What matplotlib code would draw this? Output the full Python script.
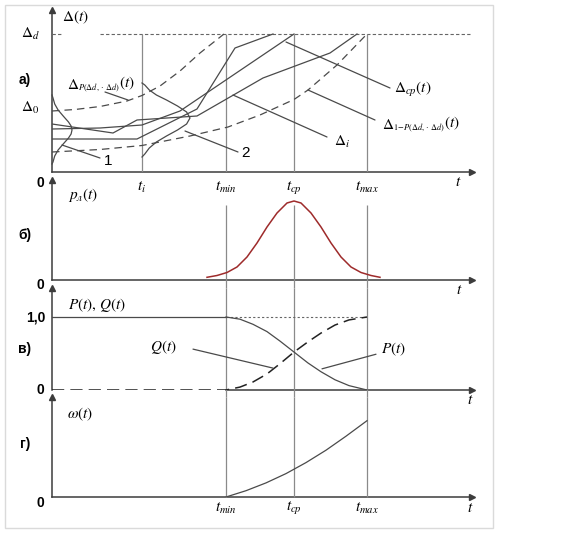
import matplotlib
matplotlib.use('Agg')
import matplotlib.pyplot as plt
from matplotlib.patches import Rectangle

plt.rcParams['mathtext.fontset'] = 'stix'
plt.rcParams['font.family'] = ['Liberation Sans', 'DejaVu Sans']

# моменты времени на оси t
t_i, t_min, t_cp, t_max = 9.0, 17.4, 24.2, 31.5
t_end = 42.0

# а) реализации процесса Δ(t)
delta_d = 13.8
delta_0 = 6.2
up_t = [0, 2.3, 4.8, 7.5, 9.0, 10.8, 12.8, 14.8, 17.2]
up_d = [6.1, 6.25, 6.55, 7.1, 7.65, 8.6, 10.1, 11.9, 13.8]
low_t = [0, 4.8, 9.0, 13.8, 17.6, 20.8, 24.2, 25.6, 28.5, 31.5]
low_d = [2.0, 2.25, 2.65, 3.6, 4.5, 5.7, 7.25, 8.2, 10.7, 13.8]
r1_t = [0, 8.5, 14.5, 18.3, 22.1]
r1_d = [3.3, 3.3, 6.3, 12.4, 13.8]
r2_t = [0, 4.8, 9.0, 12.8, 24.2]
r2_d = [4.3, 4.4, 4.7, 6.1, 13.8]
r3_t = [0, 6.1, 8.5, 14.5, 21.1, 27.8, 30.5]
r3_d = [4.8, 3.9, 5.2, 5.6, 9.4, 11.9, 13.8]
# плотности распределения (по горизонтали)
b0_w = [0, 0.1, 0.27, 0.61, 1.12, 1.65, 1.91, 2.0, 1.91, 1.65, 1.12, 0.61, 0.27, 0.1, 0]
b0_d = [7.7, 7.4, 6.8, 6.2, 5.6, 5.0, 4.6, 4.2, 3.8, 3.4, 2.8, 2.2, 1.6, 1.0, 0.8]
bi_w = [0, 0.28, 0.73, 1.44, 2.45, 3.55, 4.46, 4.8, 4.46, 3.55, 2.45, 1.44, 0.73, 0.28, 0]
bi_d = [8.9, 8.7, 8.2, 7.7, 7.2, 6.6, 6.0, 5.4, 4.8, 4.2, 3.6, 3.0, 2.4, 1.8, 1.5]

# б) плотность p_л(t)
p_t = [15.5, 16.5, 17.5, 18.5, 19.5, 20.5, 21.5, 22.5, 23.5, 24.2,
       24.9, 25.9, 26.9, 27.9, 28.9, 29.9, 30.9, 31.9, 32.8]
p_v = [0.27, 0.45, 0.75, 1.3, 2.3, 3.7, 5.3, 6.7, 7.7, 7.9,
       7.7, 6.7, 5.3, 3.7, 2.3, 1.3, 0.75, 0.45, 0.27]

# в) P(t), Q(t)
pq_t = [17.4, 18.8, 20.1, 21.5, 22.8, 24.2, 25.6, 26.9, 28.3, 29.7, 31.5]
P_v = [1.0, 0.97, 0.9, 0.8, 0.67, 0.52, 0.37, 0.25, 0.14, 0.06, 0.0]
Q_v = [0.0, 0.04, 0.11, 0.22, 0.36, 0.52, 0.66, 0.78, 0.89, 0.96, 1.0]

# г) ω(t)
w_t = [17.4, 19.4, 21.4, 23.4, 25.4, 27.4, 29.4, 31.5]
w_v = [0, 0.63, 1.41, 2.34, 3.44, 4.68, 6.08, 7.63]

W, H = 578, 535
fig = plt.figure(figsize=(W / 100, H / 100), dpi=100)
fig.patches.append(Rectangle((5 / W, 7 / H), 488 / W, 523 / H, transform=fig.transFigure,
                             fill=False, edgecolor='#dadada', lw=1))

ac = '#3c3c3c'   # оси
lc = '#4a4a4a'   # кривые
vc = '#8a8a8a'   # вертикали
fs = 11


def make_ax(top, bottom, ymax):
    ax = fig.add_axes([52 / W, 1 - bottom / H, 420 / W, (bottom - top) / H])
    ax.set_xlim(0, t_end)
    ax.set_ylim(0, ymax)
    ax.axis('off')
    return ax


def draw_axes(ax, ymax, x0=0):
    ax.plot([0, 0], [0, ymax], color=ac, lw=1.1, clip_on=False)
    ax.plot([0], [ymax], marker='^', ms=4, color=ac, clip_on=False)
    ax.plot([x0, t_end], [0, 0], color=ac, lw=1.1, clip_on=False)
    ax.plot([t_end], [0], marker='>', ms=4, color=ac, clip_on=False)


def leader(ax, a, b):
    ax.annotate('', xy=b, xytext=a,
                arrowprops=dict(arrowstyle='-', lw=0.9, color=lc, shrinkA=0, shrinkB=0))


def delta_label(ax, x, y, sub):
    # Δ с мелким индексом и (t)
    d = ax.text(x, y, r'$\Delta$', fontsize=fs, va='center')
    s = ax.annotate(sub, xy=(1, 0), xycoords=d, xytext=(-1.0, -1.5),
                    textcoords='offset points', fontsize=6, va='bottom')
    ax.annotate(r'$(t)$', xy=(1, 0), xycoords=(s, d), xytext=(-0.8, 0),
                textcoords='offset points', fontsize=fs, va='bottom')


# ---------- а) ----------
ax = make_ax(10, 172, 16.2)
draw_axes(ax, 16.2)
ax.plot([0, 1.0], [delta_d, delta_d], ls=(0, (3, 2)), color='#666666', lw=0.8)
ax.plot([4.8, 41.8], [delta_d, delta_d], ls=(0, (3, 2)), color='#666666', lw=0.8)
ax.vlines([t_i, t_min, t_cp, t_max], 0, delta_d, color=vc, lw=0.9)
ax.plot(up_t, up_d, ls=(0, (6, 4)), color=lc, lw=0.9)
ax.plot(low_t, low_d, ls=(0, (6, 4)), color=lc, lw=0.9)
for rt, rd in [(r1_t, r1_d), (r2_t, r2_d), (r3_t, r3_d)]:
    ax.plot(rt, rd, color=lc, lw=0.9)
ax.plot(b0_w, b0_d, color=lc, lw=0.9, clip_on=False)
ax.plot([t_i + w for w in bi_w], bi_d, color=lc, lw=0.9)

leader(ax, (5.3, 8.0), (7.6, 7.2))
leader(ax, (1.0, 2.7), (4.8, 1.4))
leader(ax, (13.3, 4.1), (18.6, 2.0))
leader(ax, (18.1, 7.7), (27.5, 3.5))
leader(ax, (23.4, 13.0), (33.8, 8.4))
leader(ax, (25.6, 8.2), (32.3, 5.2))

delta_label(ax, 1.5, 8.7, r'$P(\Delta d,\cdot\,\Delta d)$')
delta_label(ax, 33.0, 4.7, r'$1\!-\!P(\Delta d,\cdot\,\Delta d)$')
ax.text(5.6, 1.1, '1', fontsize=fs, ha='center', va='center')
ax.text(19.3, 1.9, '2', fontsize=fs, ha='center', va='center')
ax.text(28.2, 3.0, r'$\Delta_i$', fontsize=fs, va='center')
ax.text(34.2, 8.2, r'$\Delta_{ср}(t)$', fontsize=fs, va='center')
ax.text(1.0, 15.5, r'$\Delta(t)$', fontsize=fs, va='center')
ax.text(-2.2, delta_d, r'$\Delta_d$', fontsize=fs, ha='center', va='center')
ax.text(-2.2, 6.4, r'$\Delta_0$', fontsize=fs, ha='center', va='center')
ax.text(-2.7, 9.2, 'а)', fontsize=10, fontweight='bold', ha='center', va='center')
ax.text(-1.2, -1.1, '0', fontsize=10, fontweight='bold', ha='center', va='center')
for tt, lab in [(t_i, r'$t_i$'), (t_min, r'$t_{min}$'), (t_cp, r'$t_{ср}$'), (t_max, r'$t_{max}$')]:
    ax.text(tt, -1.5, lab, fontsize=fs, ha='center', va='center')
ax.text(40.6, -1.0, r'$t$', fontsize=fs, ha='center', va='center')

# ---------- б) ----------
ax = make_ax(180, 280, 10)
draw_axes(ax, 10)
ax.vlines([t_min, t_cp, t_max], -0.8, 7.5, color=vc, lw=0.9, clip_on=False)
ax.plot(p_t, p_v, color='#9e2b2b', lw=1.1)
ax.text(1.6, 8.5, r'$p_{л}(t)$', fontsize=fs, va='center')
ax.text(-2.7, 4.5, 'б)', fontsize=10, fontweight='bold', ha='center', va='center')
ax.text(-1.2, -0.5, '0', fontsize=10, fontweight='bold', ha='center', va='center')
ax.text(40.7, -1.0, r'$t$', fontsize=fs, ha='center', va='center')

# ---------- в) ----------
ymax_v = 102 / 73
ax = make_ax(288, 390, ymax_v)
draw_axes(ax, ymax_v, x0=t_min)
ax.vlines([t_min, t_cp, t_max], -0.1, ymax_v, color=vc, lw=0.9, clip_on=False)
ax.plot([0, t_min], [1, 1], color=lc, lw=0.9)
ax.plot([t_min, t_max], [1, 1], ls=(0, (2, 2)), color='#666666', lw=0.8)
ax.plot(pq_t, P_v, color=lc, lw=0.9)
ax.plot([0] + pq_t, [0] + Q_v, ls=(0, (8, 4)), color='#222222', lw=1.1)
leader(ax, (14.1, 0.56), (22.1, 0.30))
leader(ax, (32.4, 0.49), (27.0, 0.29))
ax.text(11.1, 0.59, r'$Q(t)$', fontsize=fs, ha='center', va='center')
ax.text(34.2, 0.56, r'$P(t)$', fontsize=fs, ha='center', va='center')
ax.text(1.6, 1.16, r'$P(t),\,Q(t)$', fontsize=fs, va='center')
ax.text(-1.6, 1.0, '1,0', fontsize=10, fontweight='bold', ha='center', va='center')
ax.text(-2.7, 0.56, 'в)', fontsize=10, fontweight='bold', ha='center', va='center')
ax.text(-1.2, 0.0, '0', fontsize=10, fontweight='bold', ha='center', va='center')
ax.text(41.8, -0.14, r'$t$', fontsize=fs, ha='center', va='center')

# ---------- г) ----------
ax = make_ax(397, 497, 10)
draw_axes(ax, 10)
ax.vlines([t_min, t_cp, t_max], 0, 10, color=vc, lw=0.9, clip_on=False)
ax.plot(w_t, w_v, color=lc, lw=0.9)
ax.text(1.5, 8.3, r'$\omega(t)$', fontsize=fs, va='center')
ax.text(-2.7, 5.3, 'г)', fontsize=10, fontweight='bold', ha='center', va='center')
ax.text(-1.2, -0.6, '0', fontsize=10, fontweight='bold', ha='center', va='center')
for tt, lab in [(t_min, r'$t_{min}$'), (t_cp, r'$t_{ср}$'), (t_max, r'$t_{max}$')]:
    ax.text(tt, -1.1, lab, fontsize=fs, ha='center', va='center')
ax.text(41.8, -1.1, r'$t$', fontsize=fs, ha='center', va='center')

fig.savefig('out.png', dpi=100)
